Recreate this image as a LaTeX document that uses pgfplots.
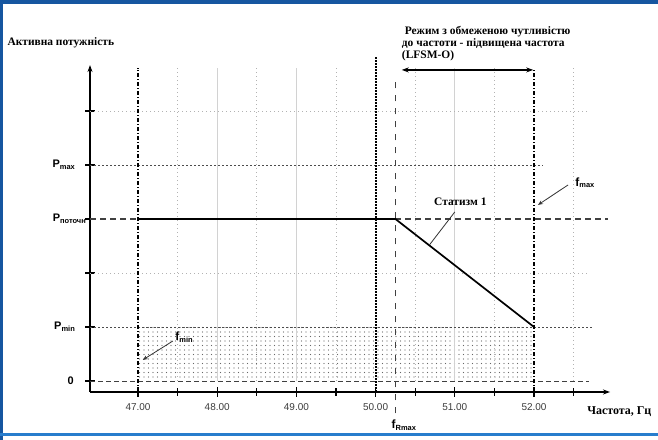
\documentclass[border=0pt]{standalone}
\usepackage{fontspec}
\setmainfont{Liberation Serif}
\setsansfont{Liberation Sans}
\usepackage{pgfplots}
\pgfplotsset{compat=1.18}
\usetikzlibrary{arrows.meta,patterns.meta}
\definecolor{frameblue}{RGB}{22,86,160}
\definecolor{lineblue}{RGB}{40,125,205}
\definecolor{tickgray}{RGB}{60,60,60}
\newcommand{\sub}[1]{{\fontsize{7.5}{7.5}\selectfont\raisebox{-0.4ex}{#1}}}
\begin{document}
\begin{tikzpicture}[x=1bp,y=1bp]
\path[use as bounding box] (0,0) rectangle (658,440);
\fill[white] (0,0) rectangle (658,440);
\begin{axis}[
  at={(90bp,48bp)}, anchor=south west, scale only axis,
  x=79.2bp, y=54bp,
  xmin=46.394, xmax=52.96, ymin=-0.204, ymax=5.85,
  axis lines=left,
  axis line style={line width=1.3bp, -{Stealth[length=7bp,width=5bp]}},
  clip=false,
  xtick={47,48,49,50,51,52},
  xticklabels={\textsf{47.00},\textsf{48.00},\textsf{49.00},\textsf{50.00},\textsf{51.00},\textsf{52.00}},
  minor xtick={47.5,48.5,49.5,50.5,51.5,52.5},
  ytick={0,1,2,3,4,5}, yticklabels={},
  tick align=center, major tick length=10bp, minor tick length=8bp,
  every tick/.style={black,line width=1.3bp},
  xticklabel style={font=\fontsize{10}{10}\selectfont, text=tickgray, yshift=-3bp},
  gridhalf/.style={gray!60, line width=0.7bp, dash pattern=on 1bp off 3bp},
  gridint/.style={gray!35, line width=0.7bp},
  plainline/.style={no marks, forget plot},
]
% shaded area
\addplot[plainline, draw=none, pattern={Dots[distance=4.5bp,radius=0.7bp]}, pattern color=black!60]
  coordinates {(47,0)(52,0)(52,1)(47,1)(47,0)};
% grid
\pgfplotsinvokeforeach{47.5,48.5,49.5,50.5,51.5,52.5}{
  \addplot[plainline, gridhalf] coordinates {(#1,0)(#1,5.8)};}
\pgfplotsinvokeforeach{48,49,51}{
  \addplot[plainline, gridint] coordinates {(#1,0)(#1,5.8)};}
\pgfplotsinvokeforeach{2,5}{
  \addplot[plainline, gridhalf] coordinates {(46.394,#1)(52.7,#1)};}
% reference levels
\addplot[plainline, black!70, line width=0.9bp, dash pattern=on 2bp off 2bp] coordinates {(46.394,4)(52.11,4)};
\addplot[plainline, black!70, line width=0.9bp, dash pattern=on 2bp off 2bp] coordinates {(46.394,1)(52.73,1)};
\addplot[plainline, black!75, line width=0.9bp, dash pattern=on 5bp off 3bp] coordinates {(46.394,0)(52.7,0)};
\addplot[plainline, black!75, line width=1.1bp, dash pattern=on 6bp off 4bp] coordinates {(46.394,3)(47,3)};
\addplot[plainline, black!75, line width=1.1bp, dash pattern=on 6bp off 4bp] coordinates {(50.25,3)(52.93,3)};
% vertical markers
\addplot[plainline, black, line width=1.5bp, dash pattern=on 4bp off 2bp on 1bp off 2bp] coordinates {(47,-0.204)(47,5.8)};
\addplot[plainline, black, line width=1.5bp, dash pattern=on 4bp off 2bp on 1bp off 2bp] coordinates {(52,-0.204)(52,5.76)};
\addplot[plainline, black, line width=1.8bp, dash pattern=on 1.6bp off 1.4bp] coordinates {(50,-0.204)(50,6.0)};
\addplot[plainline, black!75, line width=0.8bp, dash pattern=on 6bp off 7bp] coordinates {(50.25,-0.6)(50.25,5.6)};
% main characteristic
\addplot[plainline, black, line width=1.7bp] coordinates {(47,3)(50.25,3)(52,1)};
% double arrow
\addplot[plainline, black, line width=1.5bp, {Stealth[length=7bp,width=5bp]}-{Stealth[length=7bp,width=5bp]}] coordinates {(50.33,5.76)(51.99,5.76)};
% annotations
\draw[black!80, line width=0.8bp] (axis cs:51.0,3.13) -- (axis cs:50.68,2.52);
\draw[black!80, line width=0.8bp, -{Stealth[length=5bp,width=4bp]}] (axis cs:52.43,3.63) -- (axis cs:52.05,3.26);
\draw[black!80, line width=0.8bp, -{Stealth[length=5bp,width=4bp]}] (axis cs:47.44,0.74) -- (axis cs:47.06,0.39);
\node[font=\bfseries\fontsize{11.5}{12}\selectfont] at (axis cs:51.07,3.31) {Статизм 1};
\node[anchor=west, inner sep=0pt, font=\sffamily\bfseries\fontsize{12}{12}\selectfont] at (axis cs:52.52,3.67) {f\sub{max}};
\node[anchor=west, inner sep=0pt, font=\sffamily\bfseries\fontsize{12}{12}\selectfont] at (axis cs:47.47,0.81) {f\sub{min}};
\node[anchor=west, inner sep=0pt, font=\sffamily\bfseries\fontsize{12}{12}\selectfont] at (axis cs:50.2,-0.82) {f\sub{Rmax}};
\node[anchor=west, inner sep=0pt, font=\bfseries\fontsize{12}{12}\selectfont] at (axis cs:52.67,-0.56) {Частота, Гц};
\node[anchor=west, inner sep=0pt, font=\bfseries\fontsize{11.5}{12}\selectfont] at (axis cs:45.35,6.26) {Активна потужність};
\node[anchor=north west, inner sep=0pt, align=left, font=\bfseries\fontsize{11.5}{12}\selectfont] at (axis cs:50.33,6.57)
  {\ Режим з обмеженою чутливістю\\до частоти - підвищена частота\\(LFSM-O)};
% y labels
\node[anchor=east, inner sep=0pt, font=\sffamily\bfseries\fontsize{11}{11}\selectfont] at (axis cs:46.19,0) {0};
\node[anchor=east, inner sep=0pt, font=\sffamily\bfseries\fontsize{11}{11}\selectfont] at (axis cs:46.205,1) {P\sub{min}};
\node[anchor=east, inner sep=0pt, font=\sffamily\bfseries\fontsize{11}{11}\selectfont] at (axis cs:46.344,3) {P\sub{поточн}};
\node[anchor=east, inner sep=0pt, font=\sffamily\bfseries\fontsize{11}{11}\selectfont] at (axis cs:46.205,4) {P\sub{max}};
\end{axis}
\fill[frameblue] (0,436) rectangle (658,440);
\fill[frameblue] (0,0) rectangle (3,440);
\fill[lineblue] (0,4) rectangle (658,6.5);
\end{tikzpicture}
\end{document}
